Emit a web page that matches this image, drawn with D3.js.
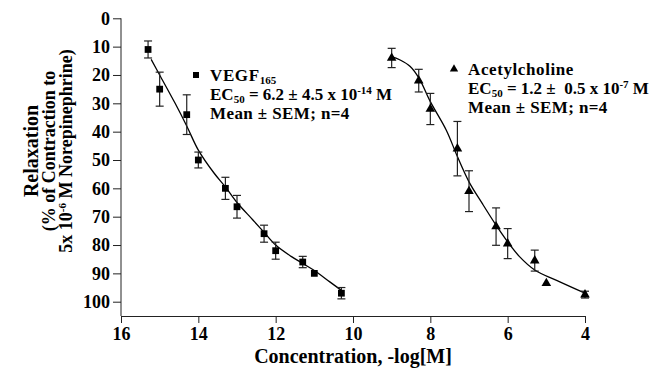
<!DOCTYPE html>
<html>
<head>
<meta charset="utf-8">
<script src="https://cdn.jsdelivr.net/npm/d3@7"></script>
<style>
  body { margin: 0; background: #fff; }
  text { font-family: "Liberation Serif", "Times New Roman", serif; font-weight: bold; fill: #000; }
</style>
</head>
<body>
<script>
'use strict';

const width = 653;
const height = 369;

// VEGF165 (squares)
const vegfX = [15.3, 15.0, 14.3, 14.0, 13.3, 13.0, 12.3, 12.0, 11.3, 11.0, 10.3];
const vegfY = [11, 25, 34, 50, 60, 66.5, 76, 82, 86, 90, 97];
const vegfErr = [3, 6, 7, 2.8, 3.9, 4, 3, 3, 2, 0, 2];
const vegfFitX = [15.22, 15.0, 14.6, 14.3, 14.0, 13.6, 13.3, 13.0, 12.6, 12.3, 12.0, 11.6, 11.3, 11.0, 10.6, 10.3];
const vegfFitY = [14.5, 20, 30, 38, 46.5, 54.5, 59.5, 65, 71, 75.5, 80, 84, 86.5, 89, 93, 96];

// Acetylcholine (triangles)
const achX = [9.0, 8.3, 8.0, 7.3, 7.0, 6.3, 6.0, 5.3, 5.0, 4.0];
const achY = [14, 22, 32, 46, 61, 73.5, 79.5, 85.5, 93.5, 97.5];
const achErr = [3.4, 4, 5.5, 9.6, 7.2, 6.6, 5.3, 3.7, 0, 1.2];
const achFitX = [9.0, 8.78, 8.52, 8.29, 8.0, 7.59, 7.3, 7.0, 6.65, 6.3, 6.0, 5.7, 5.3, 4.65, 4.0];
const achFitY = [13.5, 14.7, 17, 21.2, 29.4, 39.4, 48.8, 57.7, 65.5, 73, 78.9, 84, 88.8, 93, 97];

const xTicks = [16, 14, 12, 10, 8, 6, 4];
const yTicks = [0, 10, 20, 30, 40, 50, 60, 70, 80, 90, 100];

const svg = d3.select("body")
    .append("svg")
    .attr("width", width)
    .attr("height", height);

let x = d3.scaleLinear().domain([16, 4]).range([121, 585]);
let y = d3.scaleLinear().domain([0, 100]).range([18.3, 301.7]);
const axisY = 316;

// axes
let xAxis = svg.append("g")
    .attr("transform", "translate(0," + axisY + ")")
    .call(d3.axisBottom(x).tickValues(xTicks).tickSize(7).tickSizeOuter(0).tickPadding(4).tickFormat(d3.format("d")));
xAxis.select(".domain").attr("stroke", "#222");
xAxis.selectAll(".tick line").attr("stroke", "#222");
xAxis.selectAll("text").style("font-size", "18px");

let yAxis = svg.append("g")
    .attr("transform", "translate(121,0)")
    .call(d3.axisLeft(y).tickValues(yTicks).tickSize(8).tickPadding(3));
yAxis.select(".domain").remove();
yAxis.selectAll(".tick line").attr("stroke", "#222");
yAxis.selectAll("text").style("font-size", "18px");
svg.append("line")
    .attr("x1", 121).attr("x2", 121)
    .attr("y1", y(0)).attr("y2", axisY)
    .attr("stroke", "#222");

// axis titles
const yTitle = svg.append("g").attr("transform", "translate(0,151) rotate(-90)");
yTitle.append("text").attr("x", 0).attr("y", 38).attr("text-anchor", "middle")
    .style("font-size", "20px").text("Relaxation");
yTitle.append("text").attr("x", 0).attr("y", 55).attr("text-anchor", "middle")
    .style("font-size", "18px").text("(% of Contraction to");
let t3 = yTitle.append("text").attr("x", 0).attr("y", 72).attr("text-anchor", "middle")
    .style("font-size", "18px");
t3.append("tspan").text("5x 10");
t3.append("tspan").attr("dy", -6).style("font-size", "11px").text("-6");
t3.append("tspan").attr("dy", 6).text(" M Norepinephrine)");

svg.append("text")
    .attr("x", (x(16) + x(4)) / 2)
    .attr("y", 363)
    .attr("text-anchor", "middle")
    .style("font-size", "20px")
    .text("Concentration, -log[M]");

// fitted curves
let line = d3.line()
    .x(function (d) { return x(d[0]); })
    .y(function (d) { return y(d[1]); })
    .curve(d3.curveCatmullRom);

svg.append("path")
    .attr("d", line(d3.zip(vegfFitX, vegfFitY)))
    .attr("fill", "none").attr("stroke", "#000").attr("stroke-width", 1.3);
svg.append("path")
    .attr("d", line(d3.zip(achFitX, achFitY)))
    .attr("fill", "none").attr("stroke", "#000").attr("stroke-width", 1.3);

// error bars
function errorBars(xs, ys, errs) {
    let g = svg.append("g").attr("stroke", "#222").attr("stroke-width", 1.2);
    let data = d3.zip(xs, ys, errs).filter(d => d[2] > 0);
    g.selectAll(".v").data(data).enter().append("line")
        .attr("x1", d => x(d[0])).attr("x2", d => x(d[0]))
        .attr("y1", d => y(d[1] - d[2])).attr("y2", d => y(d[1] + d[2]));
    [-1, 1].forEach(function (s) {
        g.selectAll(".c" + s).data(data).enter().append("line")
            .attr("x1", d => x(d[0]) - 4).attr("x2", d => x(d[0]) + 4)
            .attr("y1", d => y(d[1] + s * d[2])).attr("y2", d => y(d[1] + s * d[2]));
    });
}
errorBars(vegfX, vegfY, vegfErr);
errorBars(achX, achY, achErr);

// markers
const square = d3.symbol().type(d3.symbolSquare).size(46);
const triangle = d3.symbol().type(d3.symbolTriangle).size(40);

svg.append("g").selectAll("path")
    .data(d3.zip(vegfX, vegfY))
    .enter()
    .append("path")
    .attr("d", square)
    .attr("transform", d => "translate(" + x(d[0]) + "," + y(d[1]) + ")")
    .attr("fill", "#000");

svg.append("g").selectAll("path")
    .data(d3.zip(achX, achY))
    .enter()
    .append("path")
    .attr("d", triangle)
    .attr("transform", d => "translate(" + x(d[0]) + "," + y(d[1]) + ")")
    .attr("fill", "#000");

// legends
function legendBlock(px, py, symbol, name, sub, ec, ecSup) {
    let g = svg.append("g").style("font-size", "17px");
    g.append("path").attr("d", symbol).attr("transform", "translate(" + (px - 14) + "," + (py - 6) + ")").attr("fill", "#000");
    let l1 = g.append("text").attr("x", px).attr("y", py).style("letter-spacing", "0.6px");
    l1.append("tspan").text(name);
    if (sub) {
        l1.append("tspan").attr("dy", 3).style("font-size", "11px").style("letter-spacing", "0px").text(sub);
    }
    let l2 = g.append("text").attr("x", px).attr("y", py + 19);
    l2.append("tspan").text("EC");
    l2.append("tspan").attr("dy", 3).style("font-size", "11px").text("50");
    l2.append("tspan").attr("dy", -3).text(ec);
    l2.append("tspan").attr("dy", -6).style("font-size", "11px").text(ecSup);
    l2.append("tspan").attr("dy", 6).text("\u00a0M");
    g.append("text").attr("x", px).attr("y", py + 38).style("letter-spacing", "0.4px").text("Mean \u00b1 SEM; n=4");
}
legendBlock(210, 81, d3.symbol().type(d3.symbolSquare).size(36)(), "VEGF", "165", " = 6.2 \u00b1 4.5 x 10", "-14");
legendBlock(468, 75, d3.symbol().type(d3.symbolTriangle).size(30)(), "Acetylcholine", null, " = 1.2 \u00b1\u00a0\u00a00.5 x 10", "-7");
</script>
</body>
</html>
